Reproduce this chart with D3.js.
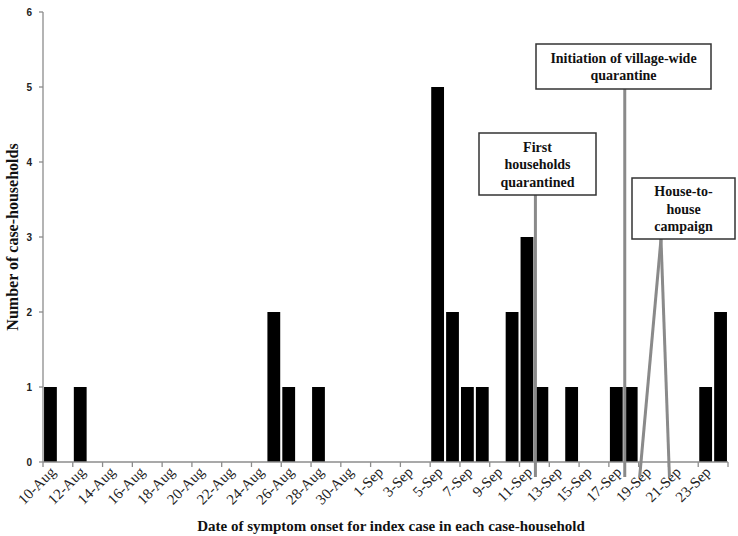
<!DOCTYPE html>
<meta charset="utf-8">
<style>
body { margin: 0; background: #fff; }
svg { display: block; }
.tick-label { font-family: "Liberation Serif", serif; font-size: 15px; fill: #222; }
.ylab { font-family: "Liberation Sans", sans-serif; font-size: 10px; font-weight: bold; fill: #222; }
.title { font-family: "Liberation Serif", serif; font-weight: bold; fill: #111; }
.note text { font-family: "Liberation Serif", serif; font-weight: bold; font-size: 14px; fill: #111; }
</style>
<svg width="738" height="536"></svg>
<script src="https://d3js.org/d3.v7.min.js"></script>
<script>

// one category per day, 10-Aug .. 24-Sep
var dates = [];
for (var d = 10; d <= 31; d++) dates.push(d + "-Aug");
for (var d = 1; d <= 24; d++) dates.push(d + "-Sep");

var caseDates = ["10-Aug", "12-Aug", "25-Aug", "26-Aug", "28-Aug", "5-Sep", "6-Sep", "7-Sep", "8-Sep",
                 "10-Sep", "11-Sep", "12-Sep", "14-Sep", "17-Sep", "18-Sep", "23-Sep", "24-Sep"];
var caseCounts = [1, 1, 2, 1, 1, 5, 2, 1, 1, 2, 3, 1, 1, 1, 1, 1, 2];

var yTicks = [0, 1, 2, 3, 4, 5, 6];

// annotations: label lines, anchor dates (lines drop to the start of those days)
var notes = [
  { lines: ["Initiation of village-wide", "quarantine"], dates: ["18-Sep"], box: [536, 44, 175, 45] },
  { lines: ["First", "households", "quarantined"], dates: ["12-Sep"], box: [479, 133, 117, 62] },
  { lines: ["House-to-", "house", "campaign"], dates: ["19-Sep", "21-Sep"], box: [632, 178, 103, 61] }
];

var svg = d3.select("svg"),
    plotL = 43, plotR = 728, plotT = 12, plotB = 462;

var x = d3.scaleBand().domain(dates).range([plotL, plotR]).paddingInner(0.14).paddingOuter(0.07);
var step = (plotR - plotL) / dates.length;
var y = d3.scaleLinear().domain([0, 6]).range([plotB, plotT]);

function dayStart(d) { return x(d) - (x.step() - x.bandwidth()) / 2 + 1; }

// bars
svg.append("g").selectAll("rect")
  .data(caseDates)
  .enter().append("rect")
    .attr("x", function(d) { return x(d); })
    .attr("width", x.bandwidth())
    .attr("y", function(d, i) { return y(caseCounts[i]); })
    .attr("height", function(d, i) { return plotB - y(caseCounts[i]); })
    .attr("fill", "#000");

// y axis
var yAxis = svg.append("g");
yAxis.append("line").attr("x1", plotL).attr("x2", plotL).attr("y1", plotT).attr("y2", plotB)
    .attr("stroke", "#8c8c8c").attr("stroke-width", 1.3);
yAxis.selectAll(".yt").data(yTicks).enter().append("line")
    .attr("x1", plotL - 4).attr("x2", plotL).attr("y1", y).attr("y2", y)
    .attr("stroke", "#8c8c8c").attr("stroke-width", 1.3);
yAxis.selectAll("text").data(yTicks).enter().append("text")
    .attr("class", "ylab")
    .attr("x", plotL - 11).attr("y", function(d) { return y(d) + 3.5; })
    .attr("text-anchor", "end")
    .text(function(d) { return d; });

// x axis
var xAxis = svg.append("g");
xAxis.append("line").attr("x1", plotL).attr("x2", plotR).attr("y1", plotB).attr("y2", plotB)
    .attr("stroke", "#8c8c8c").attr("stroke-width", 1.3);
var tickIdx = d3.range(0, dates.length + 1, 2);
xAxis.selectAll(".xt").data(tickIdx).enter().append("line")
    .attr("x1", function(i) { return plotL + i * step; })
    .attr("x2", function(i) { return plotL + i * step; })
    .attr("y1", plotB).attr("y2", plotB + 5)
    .attr("stroke", "#8c8c8c").attr("stroke-width", 1.3);
xAxis.selectAll("text").data(dates.filter(function(d, i) { return i % 2 === 0; }))
  .enter().append("text")
    .attr("class", "tick-label")
    .attr("text-anchor", "end")
    .attr("transform", function(d) {
      return "translate(" + (x(d) + x.bandwidth() / 2 + 6) + "," + (plotB + 11) + ") rotate(-45)";
    })
    .text(function(d) { return d; });

// annotations
var g = svg.selectAll(".note").data(notes).enter().append("g").attr("class", "note");
g.each(function(n) {
  var el = d3.select(this), b = n.box;
  var ax = n.dates.length > 1 ? b[0] + 29 : dayStart(n.dates[0]);
  n.dates.forEach(function(d) {
    el.append("line")
      .attr("x1", ax).attr("y1", b[1] + b[3])
      .attr("x2", dayStart(d)).attr("y2", plotB + 15)
      .attr("stroke", "#8a8a8a").attr("stroke-width", 3);
  });
  el.append("rect")
    .attr("x", b[0]).attr("y", b[1]).attr("width", b[2]).attr("height", b[3])
    .attr("fill", "#fff").attr("stroke", "#333").attr("stroke-width", 1.5);
  var lh = 17.5, y0 = b[1] + b[3] / 2 - (n.lines.length - 1) * lh / 2 + 5;
  n.lines.forEach(function(t, i) {
    el.append("text").attr("x", b[0] + b[2] / 2).attr("y", y0 + i * lh)
      .attr("text-anchor", "middle").text(t);
  });
});

// axis titles
svg.append("text").attr("class", "title")
    .attr("font-size", 16)
    .attr("transform", "translate(18,237) rotate(-90)")
    .attr("text-anchor", "middle")
    .text("Number of case-households");
svg.append("text").attr("class", "title")
    .attr("font-size", 15)
    .attr("x", 391).attr("y", 531)
    .attr("text-anchor", "middle")
    .text("Date of symptom onset for index case in each case-household");

</script>
